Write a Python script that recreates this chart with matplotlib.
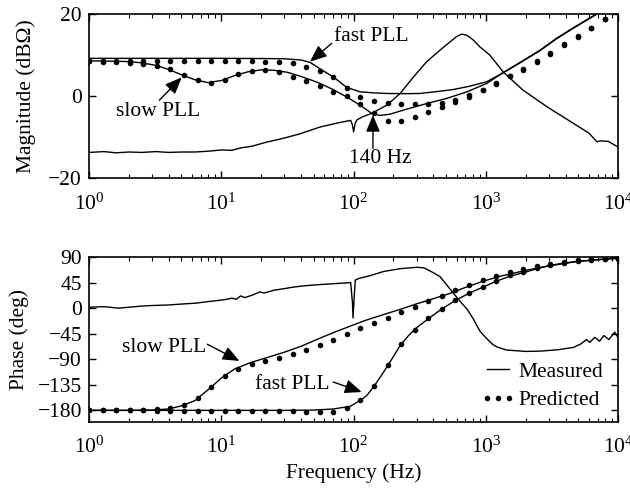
import numpy as np
import matplotlib
matplotlib.use("Agg")
import matplotlib.pyplot as plt
from matplotlib.lines import Line2D

plt.rcParams['font.family'] = ['Liberation Serif', 'DejaVu Serif']
plt.rcParams['mathtext.fontset'] = 'custom'
plt.rcParams['mathtext.rm'] = 'Liberation Serif'
plt.rcParams['mathtext.it'] = 'Liberation Serif:italic'
plt.rcParams['font.size'] = 15.5

# ---------------- data ----------------
# predicted points (log-spaced frequency grid)
f_pred = np.logspace(0, 4, 40)
mag_fast_pred = [8.6, 8.6, 8.6, 8.6, 8.6, 8.6, 8.6, 8.6, 8.6, 8.6,
                 8.6, 8.5, 8.5, 8.4, 8.2, 8.0, 7.15, 6.2, 4.56, 1.87,
                 -0.2, -1.2, -1.6, -1.95, -1.95, -1.8, -1.6, -0.9, 0.3, 1.5,
                 3.1, 4.9, 6.5, 8.5, 10.4, 12.6, 14.6, 16.7, 18.8, 21.0]
mag_slow_pred = [8.6, 8.4, 8.2, 8.1, 7.9, 7.3, 6.6, 5.2, 4.0, 3.2,
                 4.0, 5.3, 6.2, 6.3, 5.8, 4.7, 3.6, 2.5, 1.05, 0.08,
                 -2.0, -4.1, -6.1, -6.1, -5.0, -3.8, -2.7, -1.5, -0.2, 1.4,
                 3.0, 4.8, 6.4, 8.4, 10.3, 12.5, 14.5, 16.6, 18.7, 20.9]
ph_fast_pred = [-180, -180, -180, -180, -180, -181, -181, -181, -181, -181,
                -182, -182, -182, -182, -182, -182, -183, -183.5, -182.3, -175.9,
                -161.1, -136.4, -99.2, -62.7, -37.9, -17.3, -0.9, 14.5, 27.4, 37.5,
                48.4, 58, 64, 71.1, 75.8, 80.5, 82.9, 85.2, 86.5, 87.5]
ph_slow_pred = [-180, -180, -180, -180, -180, -178, -175, -170, -158, -138,
                -120, -106.5, -99, -93, -87, -81, -74, -65, -56, -45.6,
                -35, -25.6, -16.8, -6.7, 2.1, 12.2, 22, 32, 41, 49.3,
                56.9, 64, 69.9, 74.6, 78.7, 81.7, 84.7, 86.5, 87.5, 88.8]

# measured magnitude, fast PLL
f_mag_fast = [1, 2, 5, 10, 20, 30, 40, 47, 56, 70, 89, 112, 141, 178, 250, 317,
              450, 564, 750, 1014, 1350, 1810, 2570, 3430, 4560, 6680, 10000]
mag_fast_meas = [9.2, 9.2, 9.2, 9.2, 9.15, 9.1, 8.8, 8.2, 6.6, 4.7, 2.1, 1.05, 0.8,
                 0.65, 0.6, 0.65, 1.2, 1.6, 2.4, 3.5, 5.7, 8.2, 11.2, 14.1, 16.6,
                 19.8, 24.0]
# measured magnitude, slow PLL
f_mag_slow = [1, 1.6, 2, 2.5, 3.2, 4, 5, 6.3, 7.9, 10, 12.6, 15.8, 20, 25, 31.6,
              40, 47, 55.7, 70, 88.7, 112, 137, 158, 188, 250, 357, 505, 718,
              1014, 1350, 1810, 2570, 3430, 4560, 6680, 10000]
mag_slow_meas = [8.6, 8.5, 8.4, 8.1, 7.5, 6.5, 5.2, 4.0, 3.3, 3.8, 5.0, 5.9, 6.4,
                 6.3, 5.8, 4.8, 4.0, 3.1, 1.6, -0.2, -2.2, -4.2, -4.7, -4.4, -3.2,
                 -1.8, -0.56, 1.05, 3.1, 5.7, 8.1, 11.1, 14.0, 16.5, 19.7, 24.0]
# measured magnitude, third (resonant) curve
f_mag_res = [1, 1.3, 1.6, 2, 2.5, 3.2, 4, 5, 6.3, 8, 10, 12, 14, 17, 22, 30, 39,
             56, 79, 95, 98, 100, 103, 106, 117, 137, 178, 224, 284, 357, 450,
             535, 600, 656, 720, 800, 900, 1070, 1350, 1900, 2900, 4570, 6000,
             6900, 7300, 8400, 10000]
mag_res_meas = [-13.7, -13.5, -13.8, -13.6, -13.7, -13.5, -13.7, -13.6, -13.6,
                -13.4, -13.1, -13.2, -12.6, -12.2, -11.2, -10.2, -9.2, -7.5,
                -6.4, -5.9, -7.0, -8.7, -6.5, -5.8, -5.0, -4.2, -2.2, 0.6, 4.7,
                8.4, 11.2, 13.2, 14.5, 15.1, 14.8, 13.7, 12.0, 10.0, 5.9, 1.5,
                -2.6, -6.6, -9.0, -11.1, -10.9, -11.0, -12.4]

# measured phase, slow PLL
f_ph_slow = [1, 2, 3, 4, 5, 6.3, 8, 10, 12.6, 16.5, 20, 29.4, 40, 52.6, 70, 94,
             120, 168, 230, 300, 400, 536, 700, 955, 1300, 2000, 3000, 5000,
             8000, 10000]
ph_slow_meas = [-180, -180, -179.5, -177.5, -172, -163, -143, -123, -107, -96,
                -90, -78, -67, -55, -43, -31.5, -22, -11, -1, 8, 17, 26.5, 37,
                48, 57, 67, 75, 83, 87, 88.5]
# measured phase, fast PLL
f_ph_fast = [1, 10, 30, 50, 70, 94, 113, 125.6, 143, 168, 200, 224, 260, 300,
             373, 464, 589, 750, 950, 1200, 1530, 2000, 2500, 3100, 4000, 5000,
             6500, 8000, 10000]
ph_fast_meas = [-180, -180, -180, -179.5, -177.6, -173, -162, -154, -137, -113,
                -85, -66, -48, -34, -17, -1, 14, 27, 37.5, 48, 57, 64, 71, 76,
                80.5, 83, 85.5, 87, 88]
# measured phase, third (resonant) curve
f_ph_res = [1, 1.3, 1.67, 2, 2.5, 2.98, 4, 5.3, 6.3, 8, 9.5, 11, 12, 13, 14, 15,
            17, 19.6, 21, 25, 29.4, 35, 43, 52.6, 70, 90, 95, 98, 99, 101, 103,
            110, 130, 168, 224, 300, 340, 400, 450, 536, 640, 718, 800, 900,
            1000, 1130, 1210, 1430, 2000, 2570, 3500, 4570, 5200, 5760, 6100,
            6650, 7220, 7780, 8500, 9400, 10000]
ph_res_meas = [2, 3, 0.4, 2, 4, 5, 6, 8, 9, 12, 14, 16, 18, 16, 22, 19, 23, 29,
               27, 32, 34.5, 37.5, 40, 41.6, 43.5, 45, 45.5, 10, -17, 20, 50,
               53, 57, 65, 70, 72.5, 71.5, 63, 56, 34, 12, -1, -18, -40, -52,
               -64, -68, -73.5, -76, -75.5, -73, -69, -63, -55, -60, -51, -58,
               -48, -55, -42, -52]

# ---------------- figure ----------------
fig = plt.figure(figsize=(6.3, 4.92), dpi=100)
ax1 = fig.add_axes([0.1413, 0.6376, 0.840, 0.334])
ax2 = fig.add_axes([0.1413, 0.1429, 0.840, 0.334])

k = 'black'
lw = 1.0
ms = 4.0

ax1.plot(f_mag_fast, mag_fast_meas, color=k, lw=lw)
ax1.plot(f_mag_slow, mag_slow_meas, color=k, lw=lw)
ax1.plot(f_mag_res, mag_res_meas, color=k, lw=lw)
ax1.plot(f_pred, mag_fast_pred, 'o', color=k, ms=ms, mew=0)
ax1.plot(f_pred, mag_slow_pred, 'o', color=k, ms=ms, mew=0)

ax2.plot(f_ph_slow, ph_slow_meas, color=k, lw=lw)
ax2.plot(f_ph_fast, ph_fast_meas, color=k, lw=lw)
ax2.plot(f_ph_res, ph_res_meas, color=k, lw=lw)
ax2.plot(f_pred, ph_fast_pred, 'o', color=k, ms=ms, mew=0)
ax2.plot(f_pred, ph_slow_pred, 'o', color=k, ms=ms, mew=0)

for ax in (ax1, ax2):
    ax.set_xscale('log')
    ax.set_xlim(1, 1e4)
    ax.tick_params(which='both', direction='in', top=True, right=True)
    ax.tick_params(which='major', length=5, width=1.0)
    ax.tick_params(which='minor', length=3, width=0.8)
    ax.tick_params(axis='x', which='major', pad=11)
    ax.tick_params(axis='y', which='major', pad=5)
    for s in ax.spines.values():
        s.set_linewidth(1.2)

ax1.set_ylim(-20, 20)
ax1.set_yticks([-20, 0, 20])
ax2.set_ylim(-200, 90)
ax2.set_yticks([-180, -135, -90, -45, 0, 45, 90])

ax1.set_ylabel('Magnitude (dBΩ)')
ax1.yaxis.set_label_coords(-0.100, 0.5)
ax2.set_ylabel('Phase (deg)')
ax2.yaxis.set_label_coords(-0.113, 0.5)
ax2.set_xlabel('Frequency (Hz)')
ax2.xaxis.set_label_coords(0.5, -0.255)

arrow = dict(arrowstyle='-|>,head_length=0.6,head_width=0.25', color=k,
             lw=1.0, shrinkA=0, shrinkB=0, mutation_scale=17)

# top annotations
ax1.text(135, 14.6, 'fast PLL', ha='center', va='center')
ax1.annotate('', xy=(46.8, 8.4), xytext=(68.3, 12.85), arrowprops=arrow)
ax1.text(3.32, -3.66, 'slow PLL', ha='center', va='center')
ax1.annotate('', xy=(5.02, 4.56), xytext=(3.40, -0.98), arrowprops=arrow)
ax1.text(158.5, -15.1, '140 Hz', ha='center', va='center')
ax1.annotate('', xy=(140, -4.6), xytext=(140, -12.7), arrowprops=arrow)

# bottom annotations
ax2.text(3.69, -68.6, 'slow PLL', ha='center', va='center')
ax2.annotate('', xy=(13.7, -92.8), xytext=(7.84, -63.3), arrowprops=arrow)
ax2.text(34.2, -134, 'fast PLL', ha='center', va='center')
ax2.annotate('', xy=(115, -147.6), xytext=(70.2, -130), arrowprops=arrow)

handles = [Line2D([], [], color=k, lw=lw),
           Line2D([], [], color=k, ls='none', marker='o', ms=ms, mew=0)]
leg = ax2.legend(handles, ['Measured', 'Predicted'], loc='lower right',
                 bbox_to_anchor=(0.972, 0.07), frameon=False, numpoints=3,
                 handlelength=1.6, handletextpad=0.15, labelspacing=0.38,
                 borderpad=0, borderaxespad=0)

fig.savefig('out.png', dpi=100)
